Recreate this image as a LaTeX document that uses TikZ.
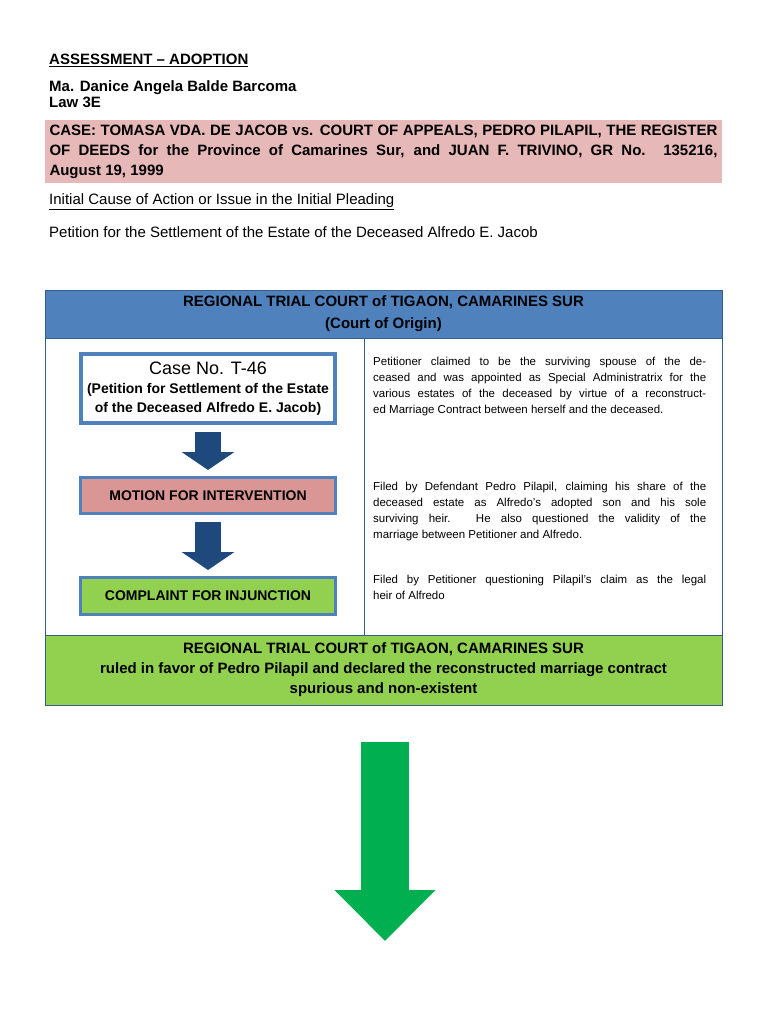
\documentclass[tikz,border=0pt]{standalone}
\usepackage{fontspec}
\setmainfont{Liberation Sans}
\usepackage{xcolor}
\usetikzlibrary{positioning,arrows.meta}

\definecolor{hdrblue}{RGB}{79,129,189}
\definecolor{darkblue}{RGB}{31,73,125}
\definecolor{framegray}{RGB}{56,93,138}
\definecolor{casepink}{RGB}{230,184,183}
\definecolor{motionpink}{RGB}{218,150,148}
\definecolor{lawngreen}{RGB}{146,208,80}
\definecolor{arrowgreen}{RGB}{0,176,80}

\begin{document}
\begin{tikzpicture}[x=1pt, y=-1pt,
  line/.style={anchor=base west, inner sep=0pt, font=\fontsize{15}{18}\selectfont},
  para/.style={anchor=north west, inner sep=0pt, text width=333pt, align=justify,
               font=\fontsize{11.5}{16.3}\selectfont},
  band/.style={minimum width=677pt, align=center, inner sep=0pt,
               font=\bfseries\fontsize{15}{20}\selectfont},
  stepbox/.style={draw=hdrblue, line width=3pt, minimum width=255pt, minimum height=36pt,
                  align=center, font=\bfseries\fontsize{14}{17}\selectfont},
  flow/.style={draw=darkblue, line width=26pt, -{Triangle[width=52pt,length=18pt]},
               shorten <=7pt, shorten >=6pt},
  bigflow/.style={draw=arrowgreen, line width=48pt, -{Triangle[width=98pt,length=51pt]}}
]
\useasboundingbox (0,0) rectangle (768,1024);

% heading
\node[line, font=\bfseries\fontsize{15}{18}\selectfont] (head) at (49,65) {\underline{ASSESSMENT -- ADOPTION}};
\node[line, font=\bfseries\fontsize{15}{18}\selectfont] (name) at (49,92) {Ma. Danice Angela Balde Barcoma};
\node[line, font=\bfseries\fontsize{15}{18}\selectfont] (class) at (49,108) {Law 3E};
\node[fill=casepink, minimum width=677pt, minimum height=63pt, inner xsep=4.5pt, text width=668pt,
      align=justify, font=\bfseries\fontsize{15}{20}\selectfont] (case title) at (383.5,151.5)
  {CASE: TOMASA VDA. DE JACOB vs. COURT OF APPEALS, PEDRO PILAPIL, THE REGISTER\linebreak
   OF DEEDS for the Province of Camarines Sur, and JUAN F. TRIVINO, GR No. 135216,\linebreak
   August 19, 1999};
\node[line] (cause) at (49,205) {\underline{Initial Cause of Action or Issue in the Initial Pleading}};
\node[line] (petition) at (49,237) {Petition for the Settlement of the Estate of the Deceased Alfredo E. Jacob};

% court of origin
\node[band, fill=hdrblue, draw=framegray, minimum height=48pt, font=\bfseries\fontsize{15}{22}\selectfont] (court) at (383.5,314)
  {REGIONAL TRIAL COURT of TIGAON, CAMARINES SUR\\(Court of Origin)};
\node[band, draw=framegray, minimum height=297pt] (panel) at (383.5,486.5) {};
\draw[framegray] (364,338) -- (364,635);

\node[stepbox, line width=3.5pt, minimum width=254pt, minimum height=69pt, fill=white,
      font=\bfseries\fontsize{14}{19}\selectfont] (case) at (208,388.5)
  {{\mdseries\fontsize{18}{22}\selectfont Case No. T-46}\\(Petition for Settlement of the Estate\\of the Deceased Alfredo E. Jacob)};
\node[stepbox, fill=motionpink] (motion) at (208,495.5) {MOTION FOR INTERVENTION};
\node[stepbox, fill=lawngreen, minimum height=37pt] (complaint) at (208,596) {COMPLAINT FOR INJUNCTION};

\node[para] (claim) at (373,356.5)
  {Petitioner claimed to be the surviving spouse of the de-\linebreak
   ceased and was appointed as Special Administratrix for the\linebreak
   various estates of the deceased by virtue of a reconstruct-\linebreak
   ed Marriage Contract between herself and the deceased.};
\node[para] (intervene) at (373,481.5)
  {Filed by Defendant Pedro Pilapil, claiming his share of the\linebreak
   deceased estate as Alfredo’s adopted son and his sole\linebreak
   surviving heir. He also questioned the validity of the\linebreak
   marriage between Petitioner and Alfredo.};
\node[para] (injunct) at (373,574.5)
  {Filed by Petitioner questioning Pilapil’s claim as the legal\linebreak
   heir of Alfredo};

\draw[flow] (case) -- (motion);
\draw[flow] (motion) -- (complaint);

% ruling
\node[band, fill=lawngreen, draw=framegray, line width=1pt, minimum height=70pt] (ruling) at (383.5,670)
  {REGIONAL TRIAL COURT of TIGAON, CAMARINES SUR\\
   ruled in favor of Pedro Pilapil and declared the reconstructed marriage contract\\
   spurious and non-existent};
\coordinate (next) at (385,941);
\draw[bigflow] ([yshift=-36pt]ruling.south -| next) -- (next);
\end{tikzpicture}
\end{document}
